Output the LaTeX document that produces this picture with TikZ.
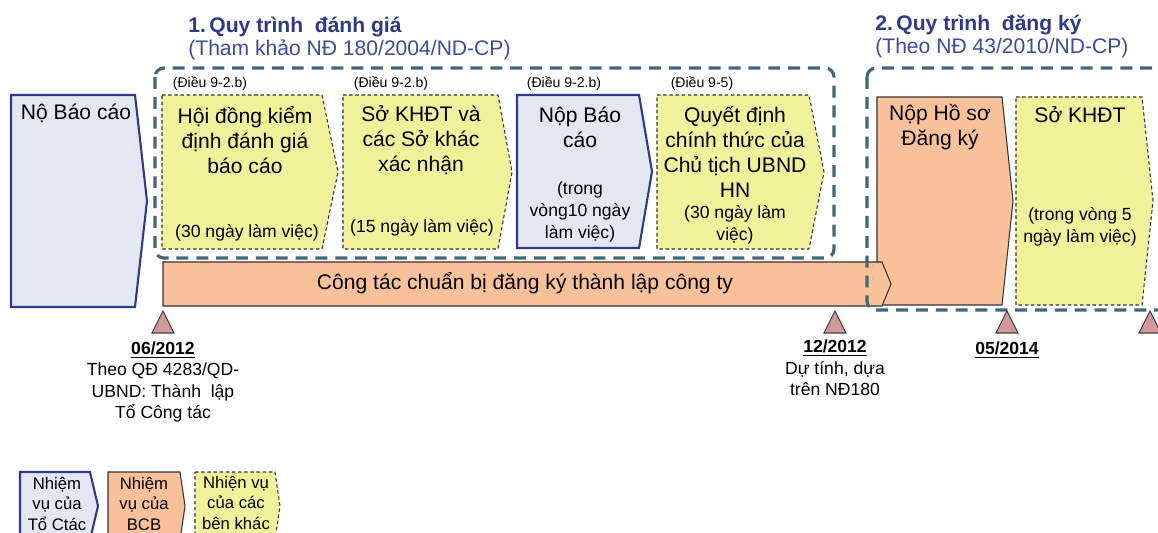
\documentclass[tikz,border=0pt]{standalone}
\usepackage{fontspec}
\setmainfont{Liberation Sans}
\usepackage{tikz}
\usetikzlibrary{calc}
\definecolor{blaurand}{RGB}{46,58,140}
\definecolor{blaufill}{RGB}{225,232,241}
\definecolor{gelb}{RGB}{240,241,155}
\definecolor{lachs}{RGB}{249,193,154}
\definecolor{rahmen}{RGB}{68,101,122}
\definecolor{titel}{RGB}{45,58,138}
\definecolor{untertitel}{RGB}{60,76,155}
\definecolor{dreieck}{RGB}{211,153,153}
% Kasten mit Spitze: Stil, x links, x rechts, x Spitze, y oben, y unten
\newcommand{\kasten}[6]{\draw[#1] (#2,#5) -- (#3,#5) -- (#4,{(#5+#6)/2}) -- (#3,#6) -- (#2,#6) -- cycle;}
\newcommand{\marke}[1]{\draw[fill=dreieck,draw=black!75,line width=0.6pt] (#1-11,333) -- (#1+11,333) -- (#1,311) -- cycle;}
\tikzset{
  gelbk/.style={fill=gelb,draw=black!80,line width=0.6pt,dash pattern=on 2pt off 1.5pt},
  blauk/.style={fill=blaufill,draw=blaurand,line width=1.2pt},
  lachsk/.style={fill=lachs,draw=black!80,line width=0.6pt},
  gruppe/.style={draw=rahmen,line width=1.8pt,dash pattern=on 6.8pt off 4.5pt,rounded corners=0.18cm},
  gross/.style={font=\fontsize{12}{14.2}\selectfont,align=center,inner sep=0pt},
  klein/.style={font=\fontsize{10}{12.3}\selectfont,align=center,inner sep=0pt},
  mini/.style={font=\fontsize{8}{9}\selectfont,inner sep=0pt},
  legende/.style={font=\fontsize{9.5}{11.4}\selectfont,align=center,inner sep=0pt}
}

\begin{document}
\begin{tikzpicture}[x=0.02cm,y=-0.02cm]
  \useasboundingbox (0,0) rectangle (1158,533);

  %Kaesten zeichnen
  \kasten{blauk}{11}{135}{147}{95}{307}
  \kasten{gelbk}{162}{322}{338}{95}{249}
  \kasten{gelbk}{343}{498}{512}{95}{249}
  \kasten{blauk}{517}{639}{652}{95}{248}
  \kasten{gelbk}{657}{809}{824}{95}{249}
  \kasten{lachsk}{877}{1002}{1013}{97}{305}
  \kasten{gelbk}{1016}{1142}{1153}{97}{305}
  \kasten{lachsk}{163}{882}{891}{262}{306}

  %gestrichelte Gruppen
  \draw[gruppe] (155,68) rectangle (834,258);
  \draw[gruppe] (867,68) rectangle (1185,310);

  %Ueberschriften
  \node[anchor=west,inner sep=0pt,font=\fontsize{12}{14}\selectfont\bfseries,text=titel] (t1) at (188,27) {1.\,Quy trình~ đánh giá};
  \node[anchor=west,inner sep=0pt,font=\fontsize{12}{14}\selectfont,text=untertitel] (u1) at (188,50) {(Tham khảo NĐ 180/2004/ND-CP)};
  \node[anchor=west,inner sep=0pt,font=\fontsize{12}{14}\selectfont\bfseries,text=titel] (t2) at (875,25) {2.\,Quy trình~ đăng ký};
  \node[anchor=west,inner sep=0pt,font=\fontsize{12}{14}\selectfont,text=untertitel] (u2) at (875,48) {(Theo NĐ 43/2010/ND-CP)};

  %Texte in den Kaesten
  \node[gross] (nb) at (76,113) {Nộ Báo cáo};
  \node[mini] (d1) at (210,84) {(Điều 9-2.b)};
  \node[gross] (hd) at (245,140) {Hội đồng kiểm\\định đánh giá\\báo cáo};
  \node[klein] (n1) at (247,233) {(30 ngày làm việc)};
  \node[mini] (d2) at (391,84) {(Điều 9-2.b)};
  \node[gross] (sk1) at (421,140) {Sở KHĐT và\\các Sở khác\\xác nhận};
  \node[klein] (n2) at (422,228) {(15 ngày làm việc)};
  \node[mini] (d3) at (564,84) {(Điều 9-2.b)};
  \node[gross] (nop) at (580,127) {Nộp Báo\\cáo};
  \node[klein] (n3) at (580,212) {(trong\\vòng10 ngày\\làm việc)};
  \node[mini] (d4) at (702,84) {(Điều 9-5)};
  \node[gross] (qd) at (735,152) {Quyết định\\chính thức của\\Chủ tịch UBND\\HN};
  \node[klein] (n4) at (735,225) {(30 ngày làm\\việc)};
  \node[gross] (hs) at (940,127) {Nộp Hồ sơ\\Đăng ký};
  \node[gross] (sk2) at (1080,115) {Sở KHĐT};
  \node[klein] (n5) at (1080,227) {(trong vòng 5\\ngày làm việc)};
  \node[gross] (ct) at (525,283) {Công tác chuẩn bị đăng ký thành lập công ty};

  %Zeitpunkte
  \marke{163}
  \marke{835}
  \marke{1007}
  \marke{1150}
  \node[klein] (z1) at (163,382) {\textbf{\underline{06/2012}}\\Theo QĐ 4283/QD-\\UBND: Thành~ lập\\Tổ Công tác};
  \node[klein] (z2) at (835,368) {\textbf{\underline{12/2012}}\\Dự tính, dựa\\trên NĐ180};
  \node[klein] (z3) at (1007,350) {\textbf{\underline{05/2014}}};

  %Legende
  \kasten{blauk}{20}{90}{98}{472}{540}
  \kasten{lachsk}{108}{180}{185}{472}{540}
  \kasten{gelbk}{195}{275}{280}{472}{540}
  \node[legende] (l1) at (57,504) {Nhiệm\\vụ của\\Tổ Ctác};
  \node[legende] (l2) at (144,504) {Nhiệm\\vụ của\\BCB};
  \node[legende] (l3) at (236,503) {Nhiện vụ\\của các\\bên khác};
\end{tikzpicture}
\end{document}
